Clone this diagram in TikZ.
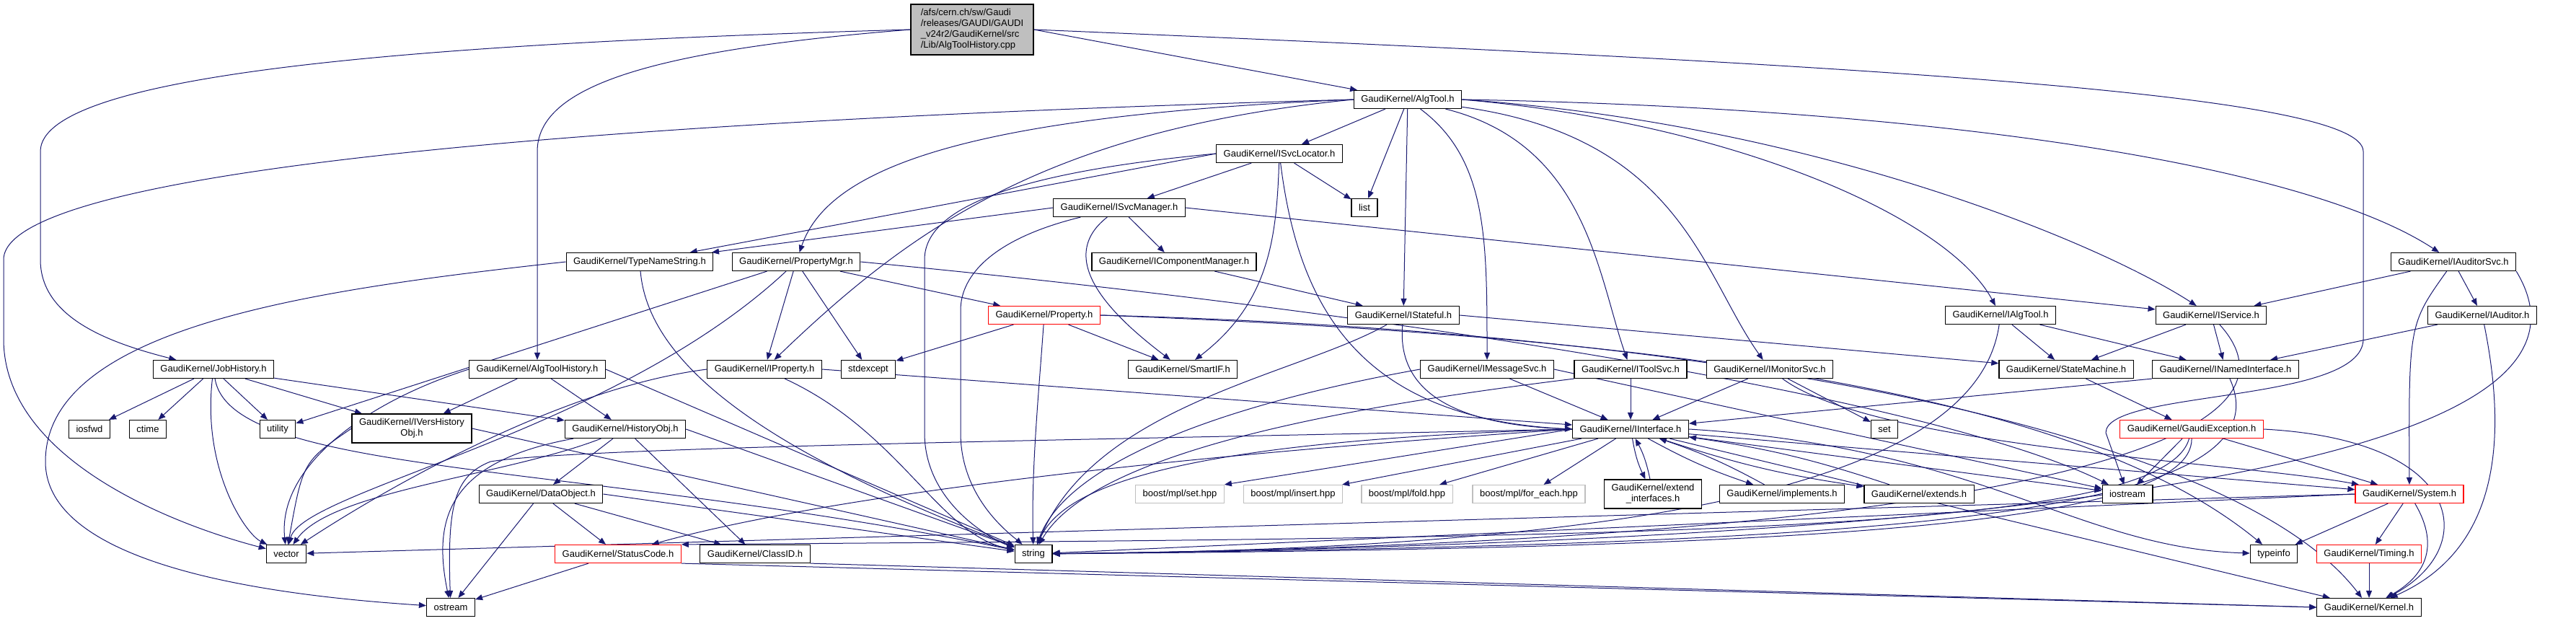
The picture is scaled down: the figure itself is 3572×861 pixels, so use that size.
\documentclass[tikz,border=0pt]{standalone}
\usepackage{fontspec}
\setmainfont{Liberation Sans}
\usetikzlibrary{arrows.meta}
\definecolor{edgeblue}{HTML}{191970}
\definecolor{nodocgray}{HTML}{BFBFBF}
\pgfdeclarelayer{edges}
\pgfsetlayers{edges,main}
\tikzset{
  hfile/.style={draw=black, fill=white, line width=1.2pt, minimum height=25pt, inner xsep=10pt, inner ysep=2pt, font=\fontsize{13}{15}\selectfont},
  trunc/.style={hfile, draw=red},
  sysfile/.style={hfile, draw=nodocgray},
  incl/.style={draw=edgeblue, line width=1pt, -{Triangle[length=10pt,width=8pt]}}
}
\begin{document}
\begin{tikzpicture}[x=1pt,y=-1pt]
\useasboundingbox (0,0) rectangle (3572,861);
\node[hfile, fill=nodocgray, align=left, minimum width=170pt, minimum height=70pt] (root) at (1348,41) {/afs/cern.ch/sw/Gaudi\\/releases/GAUDI/GAUDI\\\_v24r2/GaudiKernel/src\\/Lib/AlgToolHistory.cpp};
\node[hfile] (algtool) at (1952,138) {GaudiKernel/AlgTool.h};
\node[hfile] (svcloc) at (1774,213) {GaudiKernel/ISvcLocator.h};
\node[hfile] (svcmgr) at (1552,288) {GaudiKernel/ISvcManager.h};
\node[hfile] (list) at (1892,288) {list};
\node[hfile] (typename) at (887,363) {GaudiKernel/TypeNameString.h};
\node[hfile] (propmgr) at (1104,363) {GaudiKernel/PropertyMgr.h};
\node[hfile] (compmgr) at (1628,363) {GaudiKernel/IComponentManager.h};
\node[hfile] (audsvc) at (3402,363) {GaudiKernel/IAuditorSvc.h};
\node[trunc] (property) at (1448,437) {GaudiKernel/Property.h};
\node[hfile] (stateful) at (1946,437) {GaudiKernel/IStateful.h};
\node[hfile] (ialgtool) at (2774,437) {GaudiKernel/IAlgTool.h};
\node[hfile] (service) at (3066,437) {GaudiKernel/IService.h};
\node[hfile] (auditor) at (3442,437) {GaudiKernel/IAuditor.h};
\node[hfile] (jobhist) at (296,512) {GaudiKernel/JobHistory.h};
\node[hfile] (athist) at (745,512) {GaudiKernel/AlgToolHistory.h};
\node[hfile] (iprop) at (1060,512) {GaudiKernel/IProperty.h};
\node[hfile] (stdexcept) at (1204,512) {stdexcept};
\node[hfile] (smartif) at (1640,512) {GaudiKernel/SmartIF.h};
\node[hfile] (msgsvc) at (2062,512) {GaudiKernel/IMessageSvc.h};
\node[hfile] (toolsvc) at (2261,512) {GaudiKernel/IToolSvc.h};
\node[hfile] (monsvc) at (2454,512) {GaudiKernel/IMonitorSvc.h};
\node[hfile] (statemach) at (2865,512) {GaudiKernel/StateMachine.h};
\node[hfile] (named) at (3086,512) {GaudiKernel/INamedInterface.h};
\node[hfile] (iosfwd) at (124,595) {iosfwd};
\node[hfile] (ctime) at (205,595) {ctime};
\node[hfile] (utility) at (385,595) {utility};
\node[hfile, align=center, minimum height=40pt] (vershist) at (571,594) {GaudiKernel/IVersHistory\\Obj.h};
\node[hfile] (histobj) at (867,595) {GaudiKernel/HistoryObj.h};
\node[hfile] (iface) at (2261,595) {GaudiKernel/IInterface.h};
\node[hfile] (set) at (2613,595) {set};
\node[trunc] (gexc) at (3039,595) {GaudiKernel/GaudiException.h};
\node[hfile] (dataobj) at (750,685) {GaudiKernel/DataObject.h};
\node[sysfile] (bset) at (1636,685) {boost/mpl/set.hpp};
\node[sysfile] (binsert) at (1793,685) {boost/mpl/insert.hpp};
\node[sysfile] (bfold) at (1951,685) {boost/mpl/fold.hpp};
\node[sysfile] (bforeach) at (2120,685) {boost/mpl/for\_each.hpp};
\node[hfile, align=center, minimum height=40pt] (extif) at (2292,685) {GaudiKernel/extend\\\_interfaces.h};
\node[hfile] (implements) at (2471,685) {GaudiKernel/implements.h};
\node[hfile] (extends) at (2661,685) {GaudiKernel/extends.h};
\node[hfile] (iostream) at (2950,685) {iostream};
\node[trunc] (system) at (3341,685) {GaudiKernel/System.h};
\node[hfile] (vector) at (397,768) {vector};
\node[trunc] (statcode) at (857,768) {GaudiKernel/StatusCode.h};
\node[hfile] (classid) at (1047,768) {GaudiKernel/ClassID.h};
\node[hfile] (string) at (1433,768) {string};
\node[hfile] (typeinfo) at (3153,768) {typeinfo};
\node[trunc] (timing) at (3285,768) {GaudiKernel/Timing.h};
\node[hfile] (ostream) at (625,842) {ostream};
\node[hfile] (kernel) at (3285,842) {GaudiKernel/Kernel.h};
\begin{pgfonlayer}{edges}
\draw[incl] (root.west) .. controls (600,60) and (56,100) .. (56,210) -- (56,360) .. controls (56,440) and (150,475) .. (jobhist);
\draw[incl] (root.west) .. controls (900,70) and (745,120) .. (745,210) -- (athist);
\draw[incl] (root.east) -- (algtool);
\draw[incl] (root.east) .. controls (2600,90) and (3277,130) .. (3277,210) -- (3277,470) .. controls (3277,560) and (2920,540) .. (2920,600) -- (iostream);
\draw[incl] (algtool.west) .. controls (900,165) and (5,230) .. (5,360) -- (5,470) .. controls (5,640) and (250,730) .. (vector);
\draw[incl] (algtool.west) .. controls (1350,160) and (1150,230) .. (propmgr);
\draw[incl] (algtool.west) .. controls (1450,180) and (1260,320) .. (iprop);
\draw[incl] (algtool) -- (svcloc);
\draw[incl] (algtool) -- (list);
\draw[incl] (algtool) -- (stateful);
\draw[incl] (algtool) .. controls (2062,220) and (2062,330) .. (msgsvc);
\draw[incl] (algtool) .. controls (2200,200) and (2215,380) .. (toolsvc);
\draw[incl] (algtool) .. controls (2330,190) and (2360,380) .. (monsvc);
\draw[incl] (algtool.east) .. controls (2400,170) and (2700,300) .. (ialgtool);
\draw[incl] (algtool.east) .. controls (2500,170) and (2900,330) .. (service);
\draw[incl] (algtool.east) .. controls (2700,150) and (3200,230) .. (audsvc);
\draw[incl] (svcloc) -- (svcmgr);
\draw[incl] (svcloc.west) -- (typename);
\draw[incl] (svcloc) -- (list);
\draw[incl] (svcloc.west) .. controls (1400,240) and (1282,290) .. (1282,360) -- (1282,600) .. controls (1282,700) and (1380,750) .. (string);
\draw[incl] (svcloc) .. controls (1770,330) and (1760,420) .. (smartif);
\draw[incl] (svcloc) .. controls (1800,420) and (1880,580) .. (iface.west);
\draw[incl] (svcmgr.west) -- (typename);
\draw[incl] (svcmgr) -- (compmgr);
\draw[incl] (svcmgr) .. controls (1380,330) and (1332,380) .. (1332,430) -- (1332,600) .. controls (1332,690) and (1400,740) .. (string);
\draw[incl] (svcmgr) .. controls (1460,360) and (1545,440) .. (smartif);
\draw[incl] (svcmgr.east) -- (service);
\draw[incl] (compmgr) -- (stateful);
\draw[incl] (typename.west) .. controls (450,400) and (63,450) .. (63,640) .. controls (63,800) and (450,830) .. (ostream);
\draw[incl] (typename) .. controls (900,520) and (1100,640) .. (string);
\draw[incl] (propmgr) -- (iprop);
\draw[incl] (propmgr) -- (stdexcept);
\draw[incl] (propmgr) -- (property);
\draw[incl] (propmgr) -- (utility);
\draw[incl] (propmgr) .. controls (850,600) and (420,680) .. (vector);
\draw[incl] (propmgr.east) .. controls (2000,440) and (2700,560) .. (iostream);
\draw[incl] (property) -- (stdexcept);
\draw[incl] (property) .. controls (1440,550) and (1430,650) .. (string);
\draw[incl] (property) -- (smartif);
\draw[incl] (property.east) .. controls (2400,470) and (2900,560) .. (typeinfo);
\draw[incl] (property.east) .. controls (2400,460) and (3100,600) .. (kernel);
\draw[incl] (iprop.east) -- (iface);
\draw[incl] (iprop) .. controls (1250,600) and (1300,740) .. (string);
\draw[incl] (iprop.west) .. controls (760,540) and (500,700) .. (vector);
\draw[incl] (stateful.east) -- (statemach);
\draw[incl] (stateful) .. controls (1935,560) and (2050,590) .. (iface.west);
\draw[incl] (stateful) .. controls (1800,520) and (1520,560) .. (string);
\draw[incl] (msgsvc) -- (iface);
\draw[incl] (msgsvc.west) .. controls (1700,560) and (1480,640) .. (string);
\draw[incl] (msgsvc.east) -- (iostream);
\draw[incl] (toolsvc) -- (iface);
\draw[incl] (toolsvc.south west) .. controls (1900,560) and (1520,620) .. (string);
\draw[incl] (monsvc) -- (iface);
\draw[incl] (monsvc) -- (set);
\draw[incl] (monsvc) .. controls (2600,620) and (3100,640) .. (system);
\draw[incl] (iface.west) -- (bset.north east);
\draw[incl] (iface) -- (binsert);
\draw[incl] (iface) -- (bfold);
\draw[incl] (iface) -- (bforeach);
\draw[incl] (iface) to[bend right=8] (extif);
\draw[incl] (extif) to[bend right=8] (iface);
\draw[incl] (iface) to[bend right=5] (implements);
\draw[incl] (implements) to[bend right=5] (iface);
\draw[incl] (iface) to[bend right=5] (extends);
\draw[incl] (extends) to[bend right=5] (iface);
\draw[incl] (iface.west) .. controls (1500,610) and (800,620) .. (680,640) .. controls (630,660) and (620,700) .. (ostream);
\draw[incl] (iface.west) .. controls (1500,640) and (1100,700) .. (statcode);
\draw[incl] (iface.west) .. controls (1700,610) and (1480,660) .. (string);
\draw[incl] (iface) -- (system);
\draw[incl] (iface) -- (kernel);
\draw[incl] (iface.east) .. controls (2750,620) and (2880,760) .. (typeinfo);
\draw[incl] (iface) -- (iostream);
\draw[incl] (named.south west) -- (iface);
\draw[incl] (named) .. controls (3180,720) and (2600,755) .. (string);
\draw[incl] (ialgtool) -- (statemach);
\draw[incl] (ialgtool) -- (named);
\draw[incl] (ialgtool) .. controls (2745,640) and (2400,760) .. (string);
\draw[incl] (service) -- (statemach);
\draw[incl] (service) -- (named);
\draw[incl] (service) .. controls (3250,640) and (2600,755) .. (string);
\draw[incl] (statemach) -- (gexc);
\draw[incl] (gexc) -- (iostream);
\draw[incl] (gexc) .. controls (3040,730) and (2500,760) .. (string);
\draw[incl] (gexc) .. controls (3000,740) and (2300,745) .. (statcode.north east);
\draw[incl] (gexc) -- (system);
\draw[incl] (gexc.east) .. controls (3420,610) and (3440,760) .. (kernel);
\draw[incl] (audsvc) -- (service);
\draw[incl] (audsvc) -- (auditor);
\draw[incl] (audsvc) .. controls (3340,450) .. (system);
\draw[incl] (audsvc.south east) .. controls (3600,560) and (3300,745) .. (string);
\draw[incl] (auditor) -- (named);
\draw[incl] (auditor) .. controls (3475,600) and (3470,760) .. (kernel);
\draw[incl] (system) -- (typeinfo);
\draw[incl] (system) -- (timing);
\draw[incl] (system) .. controls (3385,760) and (3360,800) .. (kernel);
\draw[incl] (system.west) -- (string);
\draw[incl] (system.west) -- (vector);
\draw[incl] (timing) -- (kernel);
\draw[incl] (statcode) -- (ostream);
\draw[incl] (statcode.south east) -- (kernel.west);
\draw[incl] (classid.south east) -- (kernel.west);
\draw[incl] (dataobj) -- (ostream);
\draw[incl] (dataobj) -- (statcode);
\draw[incl] (dataobj) -- (classid);
\draw[incl] (dataobj.east) -- (string);
\draw[incl] (histobj) .. controls (700,660) and (460,680) .. (vector);
\draw[incl] (histobj) -- (dataobj);
\draw[incl] (histobj) -- (classid);
\draw[incl] (histobj.east) -- (string);
\draw[incl] (histobj) .. controls (620,640) and (600,720) .. (ostream);
\draw[incl] (vershist.west) .. controls (420,640) .. (vector);
\draw[incl] (vershist.east) -- (string);
\draw[incl] (athist.west) .. controls (500,560) and (385,650) .. (vector);
\draw[incl] (athist) -- (vershist);
\draw[incl] (athist) -- (histobj);
\draw[incl] (athist.east) -- (string);
\draw[incl] (jobhist) -- (iosfwd);
\draw[incl] (jobhist) -- (ctime);
\draw[incl] (jobhist) -- (utility);
\draw[incl] (jobhist) -- (vershist);
\draw[incl] (jobhist) -- (histobj);
\draw[incl] (jobhist) .. controls (280,650) and (340,740) .. (vector);
\draw[incl] (jobhist) .. controls (320,660) and (800,640) .. (string);
\end{pgfonlayer}
\end{tikzpicture}
\end{document}
